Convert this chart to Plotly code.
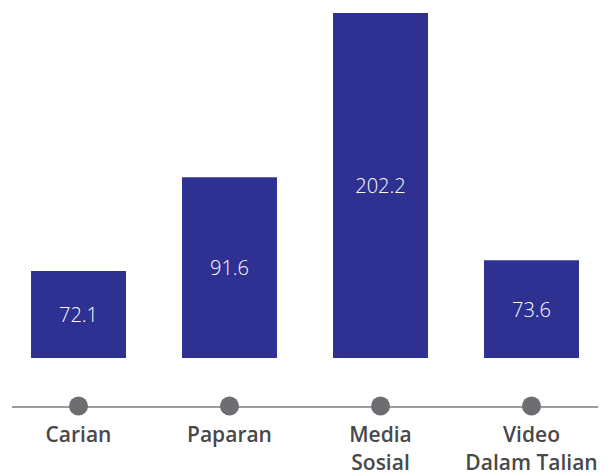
import plotly.graph_objects as go

categories = ["Carian", "Paparan", "Media<br>Sosial", "Video<br>Dalam Talian"]
values = [72.1, 91.6, 202.2, 73.6]
# The reference draws the bars not to scale; these heights are read from the picture
bar_heights = [51.0, 106.0, 202.2, 57.3]
value_labels = ["72.1", "91.6", "202.2", "73.6"]

W, H = 612, 474
ml, mr, mt, mb = 12, 14, 13, 68
y_top = max(bar_heights)
plot_h = H - mt - mb
units_per_px = y_top / 345.0
y_bottom = -(plot_h - 345) * units_per_px

fig = go.Figure()
fig.add_trace(go.Bar(
    x=categories, y=bar_heights,
    marker=dict(color="#2E3192", line=dict(width=0)),
    text=value_labels, textposition="inside", insidetextanchor="middle",
    textangle=0,
    textfont=dict(family="Open Sans", size=20, color="white", weight=300),
    hoverinfo="skip",
))
fig.add_trace(go.Scatter(
    x=categories, y=[y_bottom] * len(categories), mode="markers",
    marker=dict(size=19, color="#6D6E71", line=dict(width=0)),
    cliponaxis=False, hoverinfo="skip",
))
fig.update_layout(
    width=W, height=H, margin=dict(l=ml, r=mr, t=mt, b=mb, autoexpand=False),
    paper_bgcolor="white", plot_bgcolor="white",
    showlegend=False, bargap=0.371,
    xaxis=dict(range=[-0.4404, 3.4404], showline=True, linecolor="#9B9B9B",
               linewidth=2, showgrid=False, zeroline=False, ticks="",
               layer="below traces", fixedrange=True, automargin=False,
               ticklabelstandoff=9,
               tickfont=dict(family="Open Sans", size=21, color="#48484A", weight=600)),
    yaxis=dict(range=[y_bottom, y_top], visible=False, showgrid=False,
               zeroline=False, fixedrange=True, automargin=False),
)
fig.write_html("out.html")
